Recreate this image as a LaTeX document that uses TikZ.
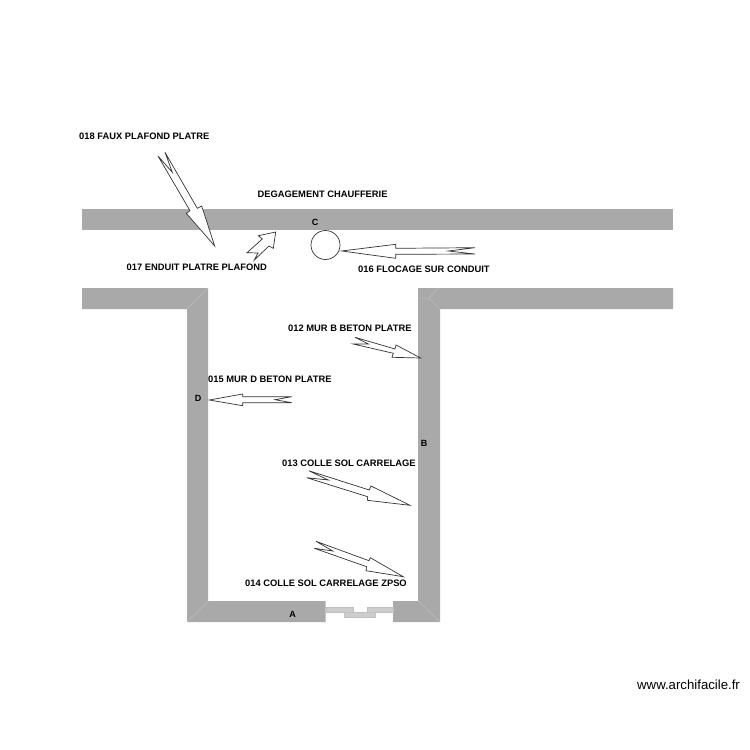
\documentclass[tikz,border=0pt]{standalone}
\usepackage{fontspec}
\setmainfont{Liberation Sans}
\definecolor{wallgray}{HTML}{A9A9A9}
\definecolor{mitergray}{HTML}{BEBEBE}
\definecolor{wingray}{HTML}{CDCDCD}
\tikzset{
  wall/.style={fill=wallgray,draw=none},
  miter/.style={draw=mitergray,line width=0.5pt},
  pointer/.style={draw=black!80,fill=white,line width=0.7pt,line join=miter},
  pane/.style={fill=wingray,draw=black!25,line width=0.3pt},
  lbl/.style={font=\bfseries\fontsize{9.35}{10}\selectfont,text=black,anchor=west,inner sep=0pt},
  wlbl/.style={font=\bfseries\fontsize{9}{10}\selectfont,text=black,inner sep=0pt}
}
\begin{document}
\begin{tikzpicture}[x=1pt,y=-1pt]
\useasboundingbox (0,0) rectangle (750,750);
\fill[white] (0,0) rectangle (750,750);
% walls
\fill[wall] (82,209) rectangle (673,230);
\fill[wall] (82,288) -- (208,288) -- (208,601) -- (325.5,601) -- (325.5,622) -- (187,622) -- (187,309) -- (82,309) -- cycle;
\fill[wall] (418,288) -- (673,288) -- (673,309) -- (440,309) -- (440,622) -- (393,622) -- (393,601) -- (418,601) -- cycle;
% mitres
\draw[miter] (187,309) -- (208,288);
\draw[miter] (187,622) -- (208,601);
\draw[miter] (418,601) -- (440,622);
\draw[miter] (418,298) -- (429,298) -- (440,309);
\draw[miter] (429,298) -- (439,288);
% window
\fill[white] (325.7,602) rectangle (393,622.5);
\path[pane] (326,606.7) -- (352.7,606.7) -- (352.7,611.7) -- (326,611.7) -- cycle;
\path[pane] (366.7,606.7) -- (393,606.7) -- (393,611.7) -- (366.7,611.7) -- cycle;
\path[pane] (344.3,611.7) -- (375,611.7) -- (375,616.7) -- (344.3,616.7) -- cycle;
% pointers
\draw[pointer] (214.7,246) -- (201.7,206) -- (197.3,208.3) -- (165,152.3) -- (172.3,172.3) -- (158,156) -- (190,210.7) -- (186.3,213.3) -- cycle;
\draw[pointer] (275.7,232) -- (258.3,235.7) -- (262.3,239) -- (247,252.7) -- (258,253) -- (254.3,260) -- (269,246) -- (273.3,248.3) -- cycle;
\draw[pointer] (341.7,251) -- (395.7,244.3) -- (395.7,248.3) -- (475,247.7) -- (448.3,251) -- (475,254) -- (395.7,254.3) -- (395.7,258.3) -- cycle;
\draw[pointer] (420.7,358) -- (396,345) -- (395,349) -- (355,337.3) -- (368.3,344) -- (353.3,344) -- (393.3,353.3) -- (392,357.3) -- cycle;
\draw[pointer] (209.3,400) -- (242.7,394) -- (242.7,396.7) -- (291.7,396.7) -- (275,399.7) -- (291.7,402.7) -- (242.7,402.7) -- (242.7,405.7) -- cycle;
\draw[pointer] (410,505.3) -- (371,486) -- (369.3,490) -- (308.7,470.7) -- (328.3,480) -- (306.7,477.7) -- (367.7,496.7) -- (367.3,500.3) -- cycle;
\draw[pointer] (403.3,576.7) -- (370.3,557.7) -- (369,560.7) -- (316,541.3) -- (332.7,551) -- (314.3,548.3) -- (366.7,566.7) -- (366,570.7) -- cycle;
\node[draw=black!80,fill=white,line width=0.7pt,circle,minimum size=29pt,inner sep=0pt] (duct) at (325.5,245) {};
% labels
\node[lbl] (l18) at (79,135.8) {018 FAUX PLAFOND PLATRE};
\node[lbl] (ldg) at (257.5,194) {DEGAGEMENT CHAUFFERIE};
\node[lbl] (l17) at (126.5,267) {017 ENDUIT PLATRE PLAFOND};
\node[lbl] (l16) at (358,268.8) {016 FLOCAGE SUR CONDUIT};
\node[lbl] (l12) at (288,327.8) {012 MUR B BETON PLATRE};
\node[lbl] (l15) at (208,379.3) {015 MUR D BETON PLATRE};
\node[lbl] (l13) at (282,462.8) {013 COLLE SOL CARRELAGE};
\node[lbl] (l14) at (245,582.8) {014 COLLE SOL CARRELAGE ZPSO};
\node[wlbl] (wc) at (315,222.5) {C};
\node[wlbl] (wd) at (198,398.5) {D};
\node[wlbl] (wb) at (424,443.5) {B};
\node[wlbl] (wa) at (292.5,614.5) {A};
\node[font=\fontsize{13.2}{14}\selectfont,text=black,anchor=west,inner sep=0pt] (mark) at (637,685) {www.archifacile.fr};
\end{tikzpicture}
\end{document}
